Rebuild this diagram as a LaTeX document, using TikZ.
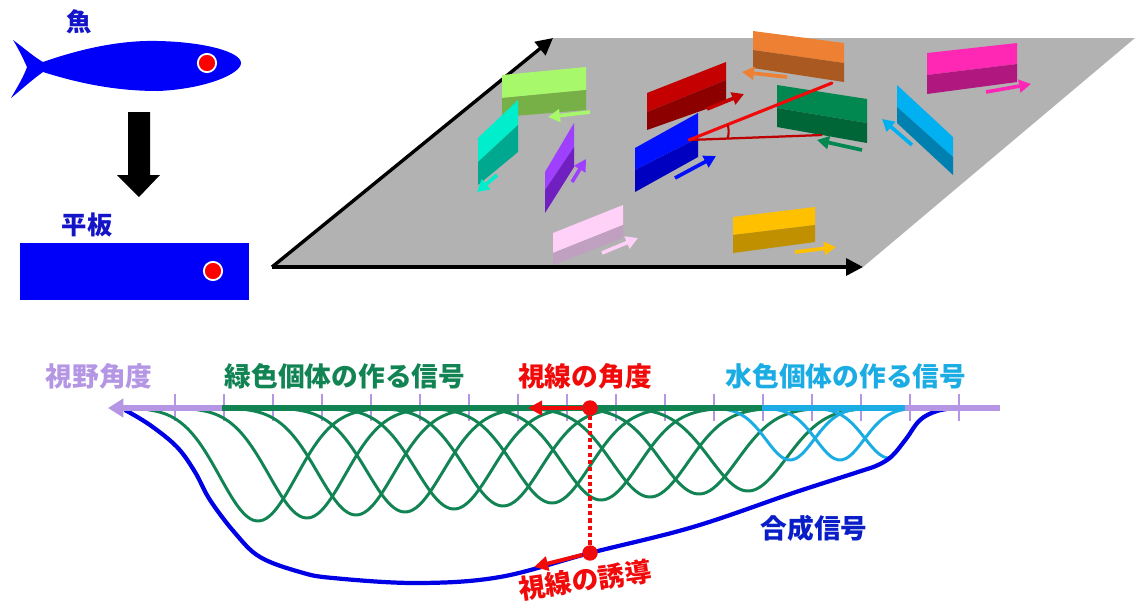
\documentclass[tikz,border=0pt]{standalone}
\usepackage{fontspec}
\newfontfamily\jpfont{Noto Sans CJK JP}
\usetikzlibrary{arrows.meta}

\definecolor{fishblue}{RGB}{0,0,250}
\definecolor{labelblue}{RGB}{20,20,200}
\definecolor{floorgray}{RGB}{178,178,178}
\definecolor{lav}{RGB}{180,150,228}
\definecolor{sgreen}{RGB}{18,132,84}
\definecolor{scyan}{RGB}{28,172,228}
\definecolor{sumblue}{RGB}{0,0,228}
\definecolor{sumlabel}{RGB}{10,30,200}
\definecolor{sigred}{RGB}{240,10,10}
\definecolor{darkred}{RGB}{190,0,0}
% panel colours, top face / bottom face
\definecolor{limetop}{RGB}{168,248,108}   \definecolor{limebot}{RGB}{120,176,72}
\definecolor{turqtop}{RGB}{0,238,204}     \definecolor{turqbot}{RGB}{0,168,144}
\definecolor{violtop}{RGB}{160,64,255}    \definecolor{violbot}{RGB}{112,32,192}
\definecolor{pinktop}{RGB}{255,208,248}   \definecolor{pinkbot}{RGB}{192,160,192}
\definecolor{redtop}{RGB}{196,0,0}        \definecolor{redbot}{RGB}{140,0,0}
\definecolor{bluetop}{RGB}{0,16,255}      \definecolor{bluebot}{RGB}{0,0,192}
\definecolor{orantop}{RGB}{238,128,52}    \definecolor{oranbot}{RGB}{170,90,32}
\definecolor{greentop}{RGB}{0,136,80}     \definecolor{greenbot}{RGB}{0,102,56}
\definecolor{magtop}{RGB}{255,40,180}     \definecolor{magbot}{RGB}{176,24,128}
\definecolor{skytop}{RGB}{0,176,240}      \definecolor{skybot}{RGB}{0,128,176}
\definecolor{goldtop}{RGB}{255,192,0}     \definecolor{goldbot}{RGB}{192,144,0}

% two-tone panel: top colour, bottom colour, A B C D E F
% (A,B top edge; F,C split line; E,D bottom edge)
\newcommand\flatpanel[8]{%
  \fill[#1] #3 -- #4 -- #5 -- #8 -- cycle;
  \fill[#2] #8 -- #5 -- #6 -- #7 -- cycle;}

\begin{document}
\begin{tikzpicture}
        [x=0.025cm, y=-0.025cm,
        lbl/.style={font=\jpfont\bfseries\fontsize{19}{19}\selectfont, inner sep=0pt},
        toplbl/.style={font=\jpfont\bfseries\fontsize{18}{18}\selectfont, inner sep=0pt, text=labelblue},
        eye/.style={circle, fill=red, draw=white, line width=1.3pt, inner sep=0pt, minimum size=13pt},
        mover/.style={line width=2.6pt, -{Triangle[length=8.5pt,width=9pt]}},
        floorarrow/.style={line width=2.4pt, -{Triangle[length=12pt,width=12pt]}},
        axisline/.style={line width=4.3pt},
        tick/.style={lav, line width=1.3pt},
        sig/.style={line width=2.1pt},
        dot/.style={circle, fill=sigred, inner sep=0pt, minimum size=11pt},
        redarrow/.style={sigred, line width=2.8pt, -{Triangle[length=10pt,width=10pt]}}]
    \useasboundingbox (0,0) rectangle (1135,607);

    % fish -> flat plate
    \node[toplbl] (fishlbl) at (79,22) {魚};
    \fill[fishblue] (13,40) .. controls (24,48) and (34,57) .. (43,62)
        .. controls (80,49) and (120,40) .. (158,41)
        .. controls (205,42) and (241,52) .. (241,63)
        .. controls (241,74) and (205,89) .. (158,91)
        .. controls (115,91) and (78,83) .. (43,72)
        .. controls (33,79) and (22,89) .. (11,98)
        .. controls (18,86) and (24,76) .. (27,67)
        .. controls (23,58) and (18,48) .. (13,40) -- cycle;
    \node[eye] (fisheye) at (207,63) {};
    \fill (128,112) -- (150,112) -- (150,175) -- (160,175) -- (139,197) -- (117,175) -- (128,175) -- cycle;
    \node[toplbl] (platelbl) at (87,225) {平板};
    \fill[fishblue] (20,243) rectangle (249,300);
    \node[eye] (plateeye) at (213,271) {};

    % floor with two axes
    \coordinate (o) at (272,267);
    \coordinate (ex) at (863,267);
    \coordinate (ey) at (553,38);
    \fill[floorgray] (o) -- (ex) -- (1135,38) -- (ey) -- cycle;
    \draw[floorarrow] (o) -- (ex);
    \draw[floorarrow] (o) -- (ey);

    % plates swimming on the floor
    \flatpanel{limetop}{limebot}{(502,75)}{(586,67)}{(586,90)}{(586,110)}{(502,117)}{(502,98)}
    \draw[mover, limetop] (590,112) -- (548,117);
    \flatpanel{turqtop}{turqbot}{(478,138)}{(518,100)}{(518,125)}{(518,152)}{(478,185)}{(478,162)}
    \draw[mover, turqtop] (497,175) -- (477,192);
    \flatpanel{violtop}{violbot}{(545,172)}{(574,123)}{(574,147)}{(574,167)}{(545,213)}{(545,190)}
    \draw[mover, violtop] (572,182) -- (586,159);
    \flatpanel{pinktop}{pinkbot}{(553,233)}{(623,205)}{(623,225)}{(623,238)}{(553,265)}{(553,253)}
    \draw[mover, pinktop] (602,253) -- (638,238);
    \flatpanel{redtop}{redbot}{(647,93)}{(726,62)}{(726,80)}{(726,102)}{(647,130)}{(647,112)}
    \draw[mover, redtop] (707,109) -- (744,94);
    \flatpanel{bluetop}{bluebot}{(635,148)}{(698,113)}{(698,138)}{(698,157)}{(635,192)}{(635,170)}
    \draw[mover, bluetop] (675,178) -- (716,156);
    \flatpanel{orantop}{oranbot}{(753,31)}{(844,43)}{(844,63)}{(844,82)}{(753,68)}{(753,50)}
    \draw[mover, orantop] (787,77) -- (742,72);
    \flatpanel{greentop}{greenbot}{(777,85)}{(867,99)}{(867,123)}{(867,143)}{(777,127)}{(777,108)}
    \draw[mover, greentop] (862,150) -- (817,140);
    \flatpanel{magtop}{magbot}{(927,53)}{(1017,43)}{(1017,64)}{(1017,82)}{(927,94)}{(927,75)}
    \draw[mover, magtop] (986,92) -- (1031,84);
    \flatpanel{skytop}{skybot}{(897,85)}{(953,137)}{(953,157)}{(953,175)}{(897,123)}{(897,107)}
    \draw[mover, skytop] (912,145) -- (882,119);
    \flatpanel{goldtop}{goldbot}{(733,217)}{(815,207)}{(815,225)}{(815,242)}{(733,253)}{(733,235)}
    \draw[mover, goldtop] (795,252) -- (836,247);

    % lines of sight from the blue plate
    \coordinate (seer) at (689,140);
    \coordinate (seenO) at (832,83);
    \coordinate (seenG) at (822,135);
    \draw[darkred, line width=1.6pt] (seer) -- (seenG);
    \draw[sigred, line width=2.2pt, line cap=round] (seer) -- (seenO);
    \draw[darkred, line width=1.5pt] (727.6,124.6) .. controls (729,129) and (729,134) .. (727.6,138.5);

    % ticks of the field of view
    \foreach \k in {0,...,16}
        \draw[tick] ({175+49*\k},394) -- ({175+49*\k},421);

    % signals of the green and the light blue plates
    \foreach \i in {0,...,10} {
        \pgfmathsetmacro\tr{258+49*\i}
        \pgfmathsetmacro\dp{113-3*\i}
        \draw[sig, sgreen] plot[domain=-110:110, samples=70, smooth]
            ({\tr+\x}, {408+\dp*exp(-(\x*\x)/2916)});
    }
    \draw[sig, scyan] plot[domain=-70:70, samples=40, smooth]
        ({790+\x}, {408+52*exp(-(\x*\x)/1156)});
    \draw[sig, scyan] plot[domain=-70:70, samples=40, smooth]
        ({840+\x}, {408+52*exp(-(\x*\x)/1156)});
    \draw[sig, scyan] plot[domain=-70:3, samples=30, smooth]
        ({889+\x}, {408+50*exp(-(\x*\x)/1156)});

    % summed signal
    \draw[sumblue, line width=3pt] plot[smooth, tension=0.6] coordinates {
        (125,410) (150,425) (177,447) (195,472) (210,500) (235,533) (260,557)
        (300,572) (333,578) (417,583) (500,577) (590,553) (693,527) (793,493)
        (858,472) (878,465) (892,456) (906,439) (920,420) (937,411) (955,408)};

    % angle axis
    \draw[axisline, lav, -{Triangle[length=11pt,width=13pt]}] (224,408) -- (108,408);
    \draw[axisline, sgreen] (222,408) -- (762,408);
    \draw[axisline, scyan] (762,408) -- (905,408);
    \draw[axisline, lav] (905,408) -- (1000,408);

    % gaze and where it is pulled
    \node[dot] (gaze) at (590,408) {};
    \node[dot] (lure) at (590,553) {};
    \coordinate (gazeto) at (528,408);
    \coordinate (lureto) at (534,567);
    \draw[sigred, line width=2.2pt, dash pattern=on 3pt off 2.2pt] (gaze) -- (lure);
    \draw[redarrow] (gaze) -- (gazeto);
    \draw[redarrow] (lure) -- (lureto);

    \node[lbl, text=lav] (fovlbl) at (99,376) {視野角度};
    \node[lbl, text=sgreen] (greenlbl) at (345,376) {緑色個体の作る信号};
    \node[lbl, text=sigred] (gazelbl) at (585,376) {視線の角度};
    \node[lbl, text=scyan] (cyanlbl) at (846,376) {水色個体の作る信号};
    \node[lbl, text=sumlabel] (sumlbl) at (814,528) {合成信号};
    \node[lbl, text=sigred, rotate=8] (lurelbl) at (585,580) {視線の誘導};

    \end{tikzpicture}
\end{document}
